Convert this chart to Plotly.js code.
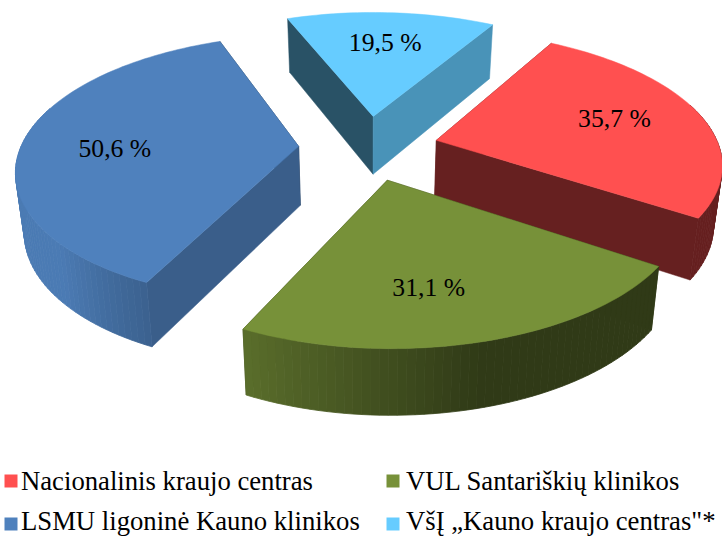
<!DOCTYPE html>
<html><head><meta charset="utf-8">
<script src="https://cdn.plot.ly/plotly-3.0.1.min.js"></script>
<style>html,body{margin:0;padding:0;background:#fff}#c{width:722px;height:537px}</style>
</head><body><div id="c"></div>
<script>
// Data
const categories = ['Nacionalinis kraujo centras','VUL Santariškių klinikos','LSMU ligoninė Kauno klinikos','VšĮ „Kauno kraujo centras"*'];
const values = [35.7, 31.1, 50.6, 19.5];
const valueLabels = ['35,7 %','31,1 %','50,6 %','19,5 %'];
// Styles
const topColors = [[255,80,80],[119,145,57],[79,129,189],[102,204,255]];
const startWallShade = [0.4,0.4,0.73,0.4];
const endWallShade = [0.4,0.4,0.4,0.72];
const paintOrder = [3,0,2,1];
const labelDx = [1,-19,1,0];
const labelDy = [-1,8,8,1];
// Scene
const W=722,H=537,cx=368,cy=147.6,rx=283,rxLeft=278,ry=129.8,persp=0.16,explode=0.25,firstAngle=30,wall=59,taper=0.975;
const rgb=(c,f)=>'rgb('+c.map(v=>Math.round(v*f)).join(',')+')';
const rad=d=>d*Math.PI/180;
function proj(u,v){const s=1/(1+persp*v);return {x:cx+(u<0?rxLeft:rx)*u*s,y:cy-ry*v*s,s};}
function low(p){return {x:cx+(p.x-cx)*taper,y:p.y+wall*Math.pow(p.s,0.55)};}
const total=values.reduce((a,b)=>a+b,0);
const spans=[];let acc=firstAngle;
values.forEach(v=>{const sw=v/total*360;spans.push([acc,acc+sw]);acc+=sw;});
function poly(pts,color,w){return {type:'scatter',mode:'lines',x:pts.map(p=>p.x).concat(pts[0].x),y:pts.map(p=>p.y).concat(pts[0].y),fill:'toself',fillcolor:color,line:{color:color,width:w,simplify:false},hoverinfo:'skip',showlegend:false};}
function outerShade(t){t=((t%360)+360)%360;if(t<=165)return 0.4;return Math.min(0.95,0.4+(t-165)*0.00875);}
const traces=[];
paintOrder.forEach(i=>{
  const [a,b]=spans[i],m=(a+b)/2,c=topColors[i];
  const au=explode*Math.sin(rad(m)),av=explode*Math.cos(rad(m));
  const at=t=>proj(au+Math.sin(rad(t)),av+Math.cos(rad(t)));
  const apex=proj(au,av);
  // radial walls, far one first
  [[a,startWallShade[i]],[b,endWallShade[i]]].sort((p,q)=>Math.cos(rad(q[0]))-Math.cos(rad(p[0]))).forEach(([t,f])=>{
    const e=at(t);traces.push(poly([apex,e,low(e),low(apex)],rgb(c,f),0.5));
  });
  // outer wall, in shaded strips (front part only)
  const step=1.5,n=Math.ceil((b-a)/step);
  for(let k=0;k<n;k++){
    const t0=a+(b-a)*k/n,t1=a+(b-a)*(k+1)/n,p0=at(t0),p1=at(t1);
    if(Math.cos(rad((t0+t1)/2))<0.3) traces.push(poly([p0,p1,low(p1),low(p0)],rgb(c,outerShade((t0+t1)/2)),0.8));
  }
  // top face
  const pts=[apex];
  for(let k=0;k<=n;k++)pts.push(at(a+(b-a)*k/n));
  traces.push(poly(pts,rgb(c,1),0.5));
});
// value labels
const lab=spans.map(([a,b],i)=>{const m=(a+b)/2,au=explode*Math.sin(rad(m)),av=explode*Math.cos(rad(m));
  const p=proj(au+0.67*Math.sin(rad(m)),av+0.67*Math.cos(rad(m)));return {x:p.x+labelDx[i],y:p.y+labelDy[i]};});
traces.push({type:'scatter',mode:'text',x:lab.map(p=>p.x),y:lab.map(p=>p.y),text:valueLabels,textposition:'middle center',
  textfont:{family:'Liberation Serif',size:25.7,color:'#000'},hoverinfo:'skip',showlegend:false,cliponaxis:false});
// legend
const legendX=[11,393,11,393],legendTextX=[21,406,21,406],legendY=[481,481,524,524],legendTextY=[483,483,523.5,523.5];
traces.push({type:'scatter',mode:'markers',x:legendX,y:legendY,marker:{symbol:'square',size:13,color:topColors.map(c=>rgb(c,1))},hoverinfo:'skip',showlegend:false,cliponaxis:false});
traces.push({type:'scatter',mode:'text',x:legendTextX,y:legendTextY,text:categories,textposition:'middle right',
  textfont:{family:'Liberation Serif',size:26.7,color:'#000'},hoverinfo:'skip',showlegend:false,cliponaxis:false});
Plotly.newPlot('c',traces,{width:W,height:H,margin:{l:0,r:0,t:0,b:0},paper_bgcolor:'#fff',plot_bgcolor:'#fff',showlegend:false,
  xaxis:{range:[0,W],visible:false,fixedrange:true},yaxis:{range:[H,0],visible:false,fixedrange:true}},{displayModeBar:false,staticPlot:true});
</script></body></html>
